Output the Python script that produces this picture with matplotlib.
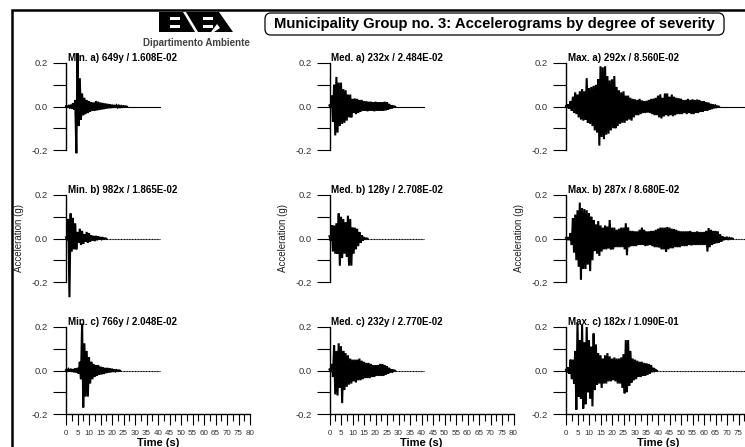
import numpy as np
import matplotlib
matplotlib.use('Agg')
import matplotlib.pyplot as plt
from matplotlib.patches import FancyBboxPatch, Polygon, Rectangle

plt.rcParams['font.family'] = ['Liberation Sans', 'DejaVu Sans']

W, H = 745, 447

# envelope of each accelerogram, one value per second
min_a_up = [.001, .003, .008, .015, .03, .245, .13, .06, .04, .03, .025, .02, .018, .025, .022, .018, .016, .014, .012, .01, .008, .007, .005, .004, .003, .002, .001]
min_a_low = [-.001, -.004, -.01, -.015, -.215, -.09, -.06, -.04, -.035, -.03, -.025, -.02, -.02, -.018, -.016, -.014, -.012, -.01, -.008, -.007, -.006, -.005, -.004, -.003, -.002, -.001, -.001]
min_b_up = [.005, .09, .115, .095, .07, .03, .045, .035, .02, .03, .025, .015, .012, .012, .01, .006, .003, .001]
min_b_low = [-.008, -.27, -.06, -.05, -.05, -.02, -.03, -.025, -.015, -.02, -.015, -.01, -.012, -.008, -.005, -.003, -.002, -.001]
min_c_up = [.002, .006, .008, .006, .01, .012, .04, .215, .125, .09, .06, .04, .03, .025, .025, .018, .015, .012, .012, .01, .008, .005, .002, .001]
min_c_low = [-.002, -.005, -.006, -.008, -.01, -.015, -.04, -.17, -.12, -.12, -.06, -.04, -.03, -.025, -.02, -.018, -.016, -.012, -.01, -.008, -.006, -.004, -.002, -.001]

med_a_up = [.005, .05, .1, .136, .11, .11, .08, .075, .055, .055, .035, .037, .035, .03, .03, .025, .024, .022, .022, .02, .022, .02, .02, .02, .022, .02, .012, .005, .001]
med_a_low = [-.006, -.07, -.133, -.12, -.09, -.08, -.075, -.065, -.05, -.05, -.03, -.035, -.03, -.025, -.02, -.02, -.022, -.02, -.02, -.022, -.02, -.02, -.02, -.02, -.018, -.015, -.01, -.004, -.001]
med_b_up = [.01, .06, .06, .07, .115, .1, .09, .075, .105, .09, .05, .05, .045, .03, .015, .003, .001]
med_b_low = [-.01, -.06, -.07, -.07, -.125, -.09, -.07, -.085, -.125, -.125, -.07, -.05, -.035, -.02, -.01, -.002, -.001]
med_c_up = [.005, .03, .115, .09, .125, .11, .09, .08, .07, .055, .05, .05, .05, .055, .045, .04, .035, .035, .03, .025, .025, .025, .03, .03, .025, .02, .012, .005, .001]
med_c_low = [-.005, -.03, -.11, -.115, -.08, -.15, -.09, -.075, -.065, -.06, -.05, -.055, -.045, -.045, -.04, -.035, -.035, -.035, -.03, -.03, -.025, -.025, -.025, -.025, -.02, -.015, -.01, -.005, -.001]

max_a_up = [.002, .01, .025, .045, .065, .055, .07, .08, .07, .13, .085, .09, .095, .1, .125, .185, .18, .185, .14, .12, .125, .14, .09, .075, .065, .07, .05, .05, .04, .035, .033, .03, .035, .028, .025, .026, .03, .035, .036, .04, .05, .056, .04, .06, .06, .045, .055, .045, .04, .038, .036, .03, .03, .035, .03, .033, .03, .032, .03, .025, .025, .02, .018, .012, .01, .004, .001]
max_a_low = [-.002, -.01, -.02, -.03, -.035, -.05, -.06, -.065, -.06, -.075, -.08, -.09, -.11, -.12, -.18, -.14, -.15, -.13, -.125, -.11, -.1, -.1, -.09, -.08, -.075, -.075, -.065, -.06, -.065, -.05, -.04, -.04, -.035, -.03, -.03, -.028, -.03, -.035, -.04, -.04, -.05, -.055, -.045, -.04, -.045, -.04, -.045, -.04, -.035, -.035, -.035, -.03, -.035, -.03, -.035, -.035, -.03, -.03, -.025, -.025, -.02, -.02, -.015, -.012, -.008, -.003, -.001]
max_b_up = [.003, .006, .025, .094, .11, .13, .165, .14, .135, .13, .117, .1, .085, .065, .08, .06, .05, .06, .055, .085, .05, .05, .04, .045, .05, .05, .07, .05, .035, .035, .033, .033, .04, .05, .04, .033, .033, .035, .035, .04, .045, .05, .05, .05, .053, .05, .045, .044, .04, .035, .033, .033, .033, .033, .035, .03, .03, .033, .03, .03, .03, .035, .048, .04, .035, .035, .033, .02, .01, .006, .004, .003, .001]
max_b_low = [-.003, -.008, -.03, -.065, -.1, -.13, -.19, -.14, -.14, -.12, -.15, -.1, -.058, -.07, -.08, -.06, -.05, -.05, -.045, -.05, -.05, -.04, -.04, -.04, -.04, -.05, -.077, -.04, -.035, -.035, -.035, -.03, -.03, -.03, -.035, -.033, -.03, -.035, -.04, -.04, -.042, -.05, -.05, -.062, -.05, -.045, -.045, -.04, -.04, -.04, -.035, -.035, -.035, -.03, -.032, -.03, -.03, -.03, -.03, -.03, -.03, -.06, -.04, -.03, -.025, -.022, -.02, -.015, -.008, -.005, -.003, -.002, -.001]
max_c_up = [.003, .015, .05, .05, .09, .22, .14, .21, .13, .2, .14, .11, .17, .12, .08, .07, .055, .07, .08, .065, .055, .06, .055, .055, .06, .075, .14, .14, .09, .055, .05, .045, .04, .04, .035, .033, .03, .025, .012, .003]
max_c_low = [-.003, -.015, -.04, -.06, -.18, -.12, -.13, -.175, -.155, -.1, -.13, -.165, -.09, -.065, -.06, -.08, -.06, -.06, -.05, -.05, -.045, -.05, -.06, -.06, -.08, -.105, -.1, -.07, -.055, -.045, -.04, -.03, -.03, -.025, -.025, -.02, -.015, -.008, -.002, -.001]

panels_up = [min_a_up, med_a_up, max_a_up, min_b_up, med_b_up, max_b_up, min_c_up, med_c_up, max_c_up]
panels_low = [min_a_low, med_a_low, max_a_low, min_b_low, med_b_low, max_b_low, min_c_low, med_c_low, max_c_low]
titles = ['Min. a) 649y / 1.608E-02', 'Med. a) 232x / 2.484E-02', 'Max. a) 292x / 8.560E-02',
          'Min. b) 982x / 1.865E-02', 'Med. b) 128y / 2.708E-02', 'Max. b) 287x / 8.680E-02',
          'Min. c) 766y / 2.048E-02', 'Med. c) 232y / 2.770E-02', 'Max. c) 182x / 1.090E-01']
record_end = [41, 41, 80, 41, 41, 80, 41, 41, 80]
y_ticks = [-0.2, -0.1, 0.0, 0.1, 0.2]
y_labels = ['-0.2', '', '0.0', '', '0.2']
x_ticks = list(range(0, 81, 5))

col_left = [66, 329.5, 566]
row_top = [63, 195, 327]
panel_w, panel_h = 184, 87

fig = plt.figure(figsize=(W / 100, H / 100), dpi=100)

for i in range(9):
    row, col = i // 3, i % 3
    ax = fig.add_axes([col_left[col] / W, 1 - (row_top[row] + panel_h) / H, panel_w / W, panel_h / H])
    ax.patch.set_alpha(0)
    up, low = panels_up[i], panels_low[i]
    t = np.arange(len(up))
    xs = np.column_stack([t, t + 0.5]).ravel()
    ys = np.column_stack([up, low]).ravel()
    ax.plot(xs, ys, color='black', lw=1.5, clip_on=False, solid_joinstyle='miter')
    # flat tail of the record
    tail = (0, (1, 0.4)) if row > 0 else '-'
    ax.plot([0, record_end[i]], [0, 0], color='black', lw=0.8, ls=tail, clip_on=False)
    ax.set_xlim(0, 80)
    ax.set_ylim(-0.2, 0.2)
    ax.spines['top'].set_visible(False)
    ax.spines['right'].set_visible(False)
    ax.spines['left'].set_linewidth(1.0)
    ax.set_yticks(y_ticks)
    ax.set_yticklabels(y_labels)
    ax.tick_params(axis='y', length=9.4, width=0.8, pad=3.5, labelsize=6.8, labelcolor='#333333')
    if row == 2:
        ax.spines['bottom'].set_linewidth(1.0)
        ax.set_xticks(x_ticks)
        # the last label of the right column falls off the page
        ax.set_xticklabels([str(v) if not (col == 2 and v == 80) else '' for v in x_ticks])
        ax.set_xticks(np.arange(2.5, 80, 5), minor=True)
        ax.tick_params(axis='x', which='major', length=8, width=0.8, pad=3.5, labelsize=5.8, labelcolor='#333333')
        ax.tick_params(axis='x', which='minor', length=5, width=0.8)
        fig.text((col_left[col] + panel_w / 2) / W, 1 - 443 / H, 'Time (s)', fontsize=8, fontweight='bold',
                 ha='center', va='center')
    else:
        ax.spines['bottom'].set_visible(False)
        ax.set_xticks([])
    if row == 1:
        fig.text((col_left[col] - 47) / W, 1 - 238 / H, 'Acceleration (g)', rotation=90, fontsize=7,
                 ha='center', va='center', color='#222222')
    fig.text((col_left[col] + 1.5) / W, 1 - (row_top[row] - 5) / H, titles[i], fontsize=7, fontweight='bold',
             ha='left', va='center', zorder=5)

# frame, title box and logo are drawn in pixel coordinates on an overlay
over = fig.add_axes([0, 0, 1, 1], zorder=-1)
over.set_xlim(0, W)
over.set_ylim(H, 0)
over.axis('off')
over.plot([12, 12, W], [H, 10, 10], color='black', lw=1.8, solid_joinstyle='miter')

over.add_patch(FancyBboxPatch((265, 13), 459, 22, boxstyle='round,pad=0,rounding_size=6', fc='white', ec='black', lw=0.9))
over.text(494.5, 24, 'Municipality Group no. 3: Accelerograms by degree of severity', fontsize=10.7,
          fontweight='bold', ha='center', va='center')

over.add_patch(Polygon([(159, 12), (219, 12), (233, 32), (159, 32)], fc='black', ec='none'))
for x0, x1, y0, y1 in [(170, 180, 17, 20), (170, 180, 25, 28), (203, 213, 17, 20), (203, 213, 25, 28)]:
    over.add_patch(Rectangle((x0, y0), x1 - x0, y1 - y0, fc='white', ec='none'))
over.add_patch(Polygon([(183, 12), (186, 12), (198, 32), (195, 32)], fc='white', ec='none'))
over.add_patch(Polygon([(217, 24), (220, 28), (214, 32), (211, 32)], fc='white', ec='none'))
over.text(196, 43, 'Dipartimento Ambiente', fontsize=7, fontweight='bold', color='#444444', ha='center', va='center')

fig.savefig('out.png', dpi=100)
